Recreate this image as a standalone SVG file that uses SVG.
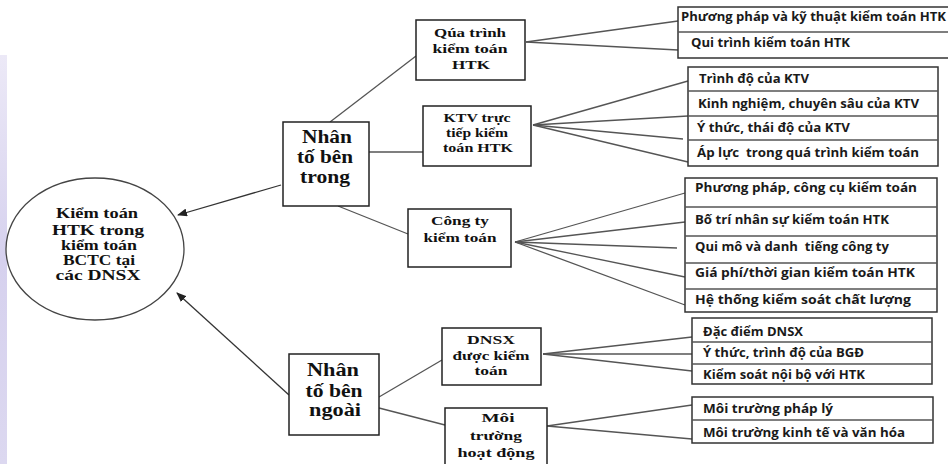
<svg xmlns="http://www.w3.org/2000/svg" width="948" height="464" viewBox="0 0 948 464">
<defs>
<linearGradient id="strip" x1="0" y1="0" x2="0" y2="1">
<stop offset="0" stop-color="#ece9f7"/>
<stop offset="0.5" stop-color="#d6d1ee"/>
<stop offset="1" stop-color="#dcd8f0"/>
</linearGradient>
<marker id="ah" markerWidth="10" markerHeight="8" refX="9" refY="4" orient="auto" markerUnits="userSpaceOnUse">
<path d="M0,0 L10,4 L0,8 z" fill="#222"/>
</marker>
<style>
.box{fill:#fff;stroke:#222;stroke-width:1.5}
.tl{fill:#fff;stroke:#333;stroke-width:1.5}
.div{stroke:#555;stroke-width:1.3}
.t{font-family:"Liberation Serif","Times New Roman",serif;font-weight:bold;fill:#111;text-anchor:middle}
.big{font-size:18px}
.mid{font-size:13px}
.el{font-size:15px}
.r{font-family:"Open Sans","Liberation Sans",Arial,sans-serif;font-weight:700;font-size:11.5px;fill:#1a1a1a;white-space:pre}
.c{stroke:#555;stroke-width:1.3;fill:none}
.a{stroke:#333;stroke-width:1.3;fill:none;marker-end:url(#ah)}
</style>
</defs>
<rect x="0" y="0" width="948" height="464" fill="#fff"/>
<rect x="0" y="55" width="7" height="409" fill="url(#strip)"/>

<g id="connectors">
<line class="a" x1="281" y1="185" x2="178" y2="215"/>
<line class="a" x1="289" y1="395" x2="177" y2="293"/>
<line class="c" x1="330" y1="122" x2="416" y2="56"/>
<line class="c" x1="369" y1="152" x2="423" y2="152"/>
<line class="c" x1="338" y1="206" x2="408" y2="234"/>
<line class="c" x1="379" y1="397" x2="442" y2="360"/>
<line class="c" x1="379" y1="408" x2="445" y2="425"/>
<line class="c" x1="526" y1="42" x2="678" y2="21"/>
<line class="c" x1="526" y1="42" x2="678" y2="50"/>
<line class="c" x1="533" y1="125" x2="688" y2="81"/>
<line class="c" x1="533" y1="125" x2="688" y2="116"/>
<line class="c" x1="533" y1="125" x2="683" y2="139"/>
<line class="c" x1="533" y1="125" x2="688" y2="162"/>
<line class="c" x1="515" y1="242" x2="685" y2="193"/>
<line class="c" x1="515" y1="242" x2="685" y2="222"/>
<line class="c" x1="515" y1="242" x2="677" y2="248"/>
<line class="c" x1="515" y1="242" x2="685" y2="277"/>
<line class="c" x1="515" y1="242" x2="685" y2="305"/>
<line class="c" x1="543" y1="354" x2="692" y2="337"/>
<line class="c" x1="543" y1="354" x2="692" y2="354"/>
<line class="c" x1="543" y1="354" x2="692" y2="371"/>
<line class="c" x1="547" y1="426" x2="692" y2="405"/>
<line class="c" x1="547" y1="426" x2="692" y2="439"/>
</g>

<g id="root">
<ellipse cx="95" cy="249" rx="89" ry="71" fill="#fff" stroke="#444" stroke-width="1.3"/>
<text class="t el" x="97" y="218" textLength="82" lengthAdjust="spacingAndGlyphs">Kiểm toán</text>
<text class="t el" x="98" y="235" textLength="92" lengthAdjust="spacingAndGlyphs">HTK trong</text>
<text class="t el" x="99" y="250" textLength="76" lengthAdjust="spacingAndGlyphs">kiểm toán</text>
<text class="t el" x="99" y="265" textLength="72" lengthAdjust="spacingAndGlyphs">BCTC tại</text>
<text class="t el" x="98" y="280" textLength="85" lengthAdjust="spacingAndGlyphs">các DNSX</text>
</g>

<g id="nhan-to-ben-trong">
<rect class="box" x="283" y="122" width="86" height="84"/>
<text class="t big" x="327" y="143" textLength="50" lengthAdjust="spacingAndGlyphs">Nhân</text>
<text class="t big" x="325" y="163" textLength="56" lengthAdjust="spacingAndGlyphs">tố bên</text>
<text class="t big" x="325" y="183" textLength="50" lengthAdjust="spacingAndGlyphs">trong</text>
</g>

<g id="nhan-to-ben-ngoai">
<rect class="box" x="289" y="354" width="90" height="81"/>
<text class="t big" x="333" y="376" textLength="52" lengthAdjust="spacingAndGlyphs">Nhân</text>
<text class="t big" x="334" y="397" textLength="57" lengthAdjust="spacingAndGlyphs">tố bên</text>
<text class="t big" x="335" y="416" textLength="52" lengthAdjust="spacingAndGlyphs">ngoài</text>
</g>

<g id="qua-trinh">
<rect class="box" x="416" y="20" width="109" height="60"/>
<text class="t mid" x="470" y="37" textLength="72" lengthAdjust="spacingAndGlyphs">Qúa trình</text>
<text class="t mid" x="470" y="53" textLength="75" lengthAdjust="spacingAndGlyphs">kiểm toán</text>
<text class="t mid" x="471" y="69" textLength="38" lengthAdjust="spacingAndGlyphs">HTK</text>
</g>

<g id="ktv">
<rect class="box" x="423" y="106" width="108" height="60"/>
<text class="t mid" x="477" y="122" textLength="67" lengthAdjust="spacingAndGlyphs">KTV trực</text>
<text class="t mid" x="477" y="137" textLength="62" lengthAdjust="spacingAndGlyphs">tiếp kiểm</text>
<text class="t mid" x="478" y="152" textLength="70" lengthAdjust="spacingAndGlyphs">toán HTK</text>
</g>

<g id="cong-ty">
<rect class="box" x="408" y="209" width="103" height="58"/>
<text class="t mid" x="460" y="225" textLength="58" lengthAdjust="spacingAndGlyphs">Công ty</text>
<text class="t mid" x="460" y="242" textLength="73" lengthAdjust="spacingAndGlyphs">kiểm toán</text>
</g>

<g id="dnsx">
<rect class="box" x="442" y="328" width="99" height="57"/>
<text class="t mid" x="491" y="344" textLength="48" lengthAdjust="spacingAndGlyphs">DNSX</text>
<text class="t mid" x="491" y="360" textLength="77" lengthAdjust="spacingAndGlyphs">được kiểm</text>
<text class="t mid" x="491" y="375" textLength="33" lengthAdjust="spacingAndGlyphs">toán</text>
</g>

<g id="moi-truong">
<rect class="box" x="445" y="408" width="102" height="58"/>
<text class="t mid" x="498" y="422" textLength="33" lengthAdjust="spacingAndGlyphs">Môi</text>
<text class="t mid" x="496" y="440" textLength="52" lengthAdjust="spacingAndGlyphs">trường</text>
<text class="t mid" x="496" y="457" textLength="77" lengthAdjust="spacingAndGlyphs">hoạt động</text>
</g>

<g id="list-qua-trinh">
<rect class="tl" x="678" y="7" width="280" height="51"/>
<line class="div" x1="678" y1="32" x2="958" y2="32"/>
<text class="r" x="681" y="21" textLength="265" lengthAdjust="spacingAndGlyphs">Phương pháp và kỹ thuật kiểm toán HTK</text>
<text class="r" x="691" y="47" textLength="159" lengthAdjust="spacingAndGlyphs">Qui trình kiểm toán HTK</text>
</g>

<g id="list-ktv">
<rect class="tl" x="688" y="67" width="250" height="99"/>
<line class="div" x1="688" y1="91" x2="938" y2="91"/>
<line class="div" x1="688" y1="116" x2="938" y2="116"/>
<line class="div" x1="688" y1="140" x2="938" y2="140"/>
<text class="r" x="699" y="83" textLength="110" lengthAdjust="spacingAndGlyphs">Trình độ của KTV</text>
<text class="r" x="698" y="108" textLength="221" lengthAdjust="spacingAndGlyphs">Kinh nghiệm, chuyên sâu của KTV</text>
<text class="r" x="697" y="132" textLength="153" lengthAdjust="spacingAndGlyphs">Ý thức, thái độ của KTV</text>
<text class="r" x="697" y="157" textLength="222" lengthAdjust="spacingAndGlyphs">Áp lực  trong quá trình kiểm toán</text>
</g>

<g id="list-cong-ty">
<rect class="tl" x="685" y="178" width="252" height="134"/>
<line class="div" x1="685" y1="207" x2="937" y2="207"/>
<line class="div" x1="685" y1="236" x2="937" y2="236"/>
<line class="div" x1="685" y1="263" x2="937" y2="263"/>
<line class="div" x1="685" y1="289" x2="937" y2="289"/>
<text class="r" x="695" y="192" textLength="222" lengthAdjust="spacingAndGlyphs">Phương pháp, công cụ kiểm toán</text>
<text class="r" x="695" y="224" textLength="194" lengthAdjust="spacingAndGlyphs">Bố trí nhân sự kiểm toán HTK</text>
<text class="r" x="695" y="251" textLength="194" lengthAdjust="spacingAndGlyphs">Qui mô và danh  tiếng công ty</text>
<text class="r" x="695" y="277" textLength="220" lengthAdjust="spacingAndGlyphs">Giá phí/thời gian kiểm toán HTK</text>
<text class="r" x="695" y="304" textLength="216" lengthAdjust="spacingAndGlyphs">Hệ thống kiểm soát chất lượng</text>
</g>

<g id="list-dnsx">
<rect class="tl" x="692" y="318" width="240" height="66"/>
<line class="div" x1="692" y1="342" x2="932" y2="342"/>
<line class="div" x1="692" y1="364" x2="932" y2="364"/>
<text class="r" x="703" y="336" textLength="100" lengthAdjust="spacingAndGlyphs">Đặc điểm DNSX</text>
<text class="r" x="703" y="357" textLength="161" lengthAdjust="spacingAndGlyphs">Ý thức, trình độ của BGĐ</text>
<text class="r" x="703" y="379" textLength="162" lengthAdjust="spacingAndGlyphs">Kiểm soát nội bộ với HTK</text>
</g>

<g id="list-moi-truong">
<rect class="tl" x="692" y="397" width="241" height="46"/>
<line class="div" x1="692" y1="420" x2="933" y2="420"/>
<text class="r" x="703" y="413" textLength="130" lengthAdjust="spacingAndGlyphs">Môi trường pháp lý</text>
<text class="r" x="703" y="437" textLength="202" lengthAdjust="spacingAndGlyphs">Môi trường kinh tế và văn hóa</text>
</g>
</svg>
